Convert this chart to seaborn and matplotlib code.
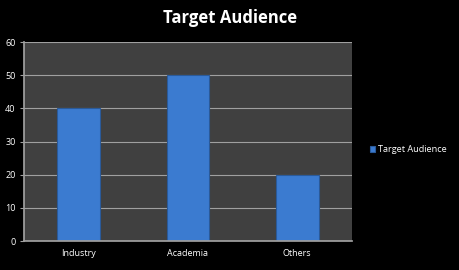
import matplotlib
matplotlib.use("Agg")
import matplotlib.pyplot as plt
import seaborn as sns
import pandas as pd

categories = ["Industry", "Academia", "Others"]
values = [40, 50, 20]
series_name = "Target Audience"
yticks = [0, 10, 20, 30, 40, 50, 60]

sns.set_theme(style="dark")
plt.rcParams['font.family'] = ['Open Sans', 'DejaVu Sans']

df = pd.DataFrame({"cat": categories, "val": values, "series": series_name})

fig = plt.figure(figsize=(4.6, 2.7), dpi=100, facecolor="black")
ax = fig.add_axes([0.052, 0.107, 0.713, 0.737])
ax.set_facecolor("#404040")

sns.barplot(data=df, x="cat", y="val", hue="series", palette=["#3b7bd0"],
            saturation=1, width=0.39, ax=ax, edgecolor="#2a5a9a",
            linewidth=0.8, legend=True)

ax.set_ylim(0, 60)
ax.set_yticks(yticks)
ax.yaxis.grid(True, color="#a0a0a0", linewidth=0.8)
ax.xaxis.grid(False)
ax.set_axisbelow(True)
ax.set_xlabel("")
ax.set_ylabel("")
for s in ax.spines.values():
    s.set_visible(False)
ax.spines["left"].set_visible(True)
ax.spines["left"].set_color("#a0a0a0")
ax.spines["bottom"].set_visible(True)
ax.spines["bottom"].set_color("#a0a0a0")
ax.tick_params(axis="both", colors="white", labelsize=6.5, length=3, width=0.8,
               direction="out", pad=3)
ax.tick_params(axis="y", color="#a0a0a0", left=True)
ax.tick_params(axis="x", bottom=False)
for lbl in ax.get_xticklabels() + ax.get_yticklabels():
    lbl.set_color("white")

fig.text(0.5, 0.932, "Target Audience", ha="center", va="center",
         color="white", fontsize=12, fontweight="bold")

leg = ax.legend(loc="center left", bbox_to_anchor=(1.03, 0.46), frameon=False,
                fontsize=6.6, handlelength=0.6, handleheight=0.6, handletextpad=0.3)
for t in leg.get_texts():
    t.set_color("white")

fig.savefig("out.png", dpi=100, facecolor="black")
